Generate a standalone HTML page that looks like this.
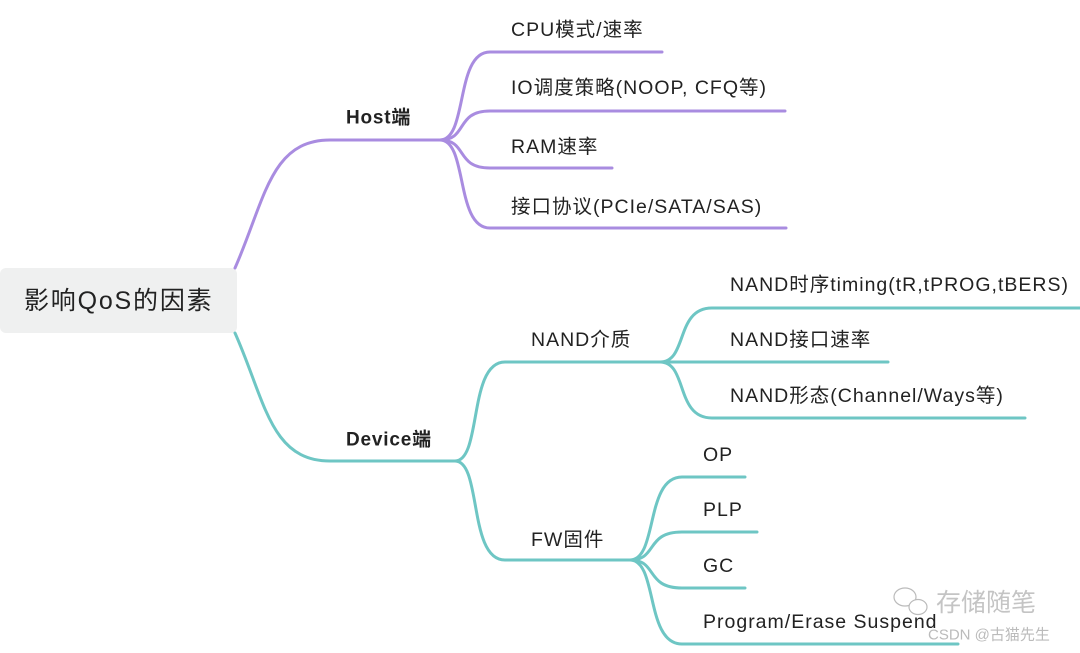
<!DOCTYPE html>
<html><head><meta charset="utf-8"><style>
html,body{margin:0;padding:0;background:#fff;}
svg{display:block;}
text{font-family:"Liberation Sans","Noto Sans CJK SC",sans-serif;fill:#222;dominant-baseline:central;}
</style></head><body>
<svg width="1080" height="653" viewBox="0 0 1080 653" xmlns="http://www.w3.org/2000/svg">
<rect x="0" y="268" width="237" height="65" rx="6" fill="#eff0f0"/>
<text x="24" y="301" font-size="25" letter-spacing="1.8">影响QoS的因素</text>
<g fill="none" stroke-width="3" stroke-linecap="round">
<g stroke="#a98ce0">
<path d="M235,268 C265,200 270,140 330,140 L440,140"/>
<path d="M440,140 C468,140 455,52 490,52 L662,52"/>
<path d="M440,140 C468,140 455,111 490,111 L785,111"/>
<path d="M440,140 C468,140 455,168 490,168 L612,168"/>
<path d="M440,140 C468,140 455,228 490,228 L786,228"/>
</g>
<g stroke="#6ec6c4">
<path d="M235,333 C265,400 270,461 330,461 L455,461"/>
<path d="M455,461 C482,461 468,362 505,362 L660,362"/>
<path d="M455,461 C482,461 468,560 505,560 L630,560"/>
<path d="M660,362 C688,362 675,308 712,308 L1080,308"/>
<path d="M660,362 L888,362"/>
<path d="M660,362 C688,362 675,418 712,418 L1025,418"/>
<path d="M630,560 C658,560 645,477 682,477 L745,477"/>
<path d="M630,560 C658,560 645,532 682,532 L757,532"/>
<path d="M630,560 C658,560 645,588 682,588 L745,588"/>
<path d="M630,560 C658,560 645,644 682,644 L958,644"/>
</g>
</g>
<text x="346" y="118" font-size="19" font-weight="bold" letter-spacing="0.8">Host端</text>
<text x="346" y="440" font-size="19" font-weight="bold" letter-spacing="0.8">Device端</text>
<g font-size="19.5" letter-spacing="1">
<text x="511" y="30">CPU模式/速率</text>
<text x="511" y="88">IO调度策略(NOOP, CFQ等)</text>
<text x="511" y="147">RAM速率</text>
<text x="511" y="207">接口协议(PCIe/SATA/SAS)</text>
<text x="531" y="340">NAND介质</text>
<text x="531" y="540">FW固件</text>
<text x="730" y="285">NAND时序timing(tR,tPROG,tBERS)</text>
<text x="730" y="340">NAND接口速率</text>
<text x="730" y="396">NAND形态(Channel/Ways等)</text>
<text x="703" y="455">OP</text>
<text x="703" y="510">PLP</text>
<text x="703" y="566">GC</text>
<text x="703" y="622">Program/Erase Suspend</text>
</g>
<g fill="none" stroke="#bbb" stroke-width="1.2">
<ellipse cx="905" cy="597" rx="11" ry="9"/>
<ellipse cx="918" cy="607" rx="9" ry="7.5" fill="#fff"/>
</g>
<text x="936" y="603" font-size="25" style="fill:#c4c4c4">存储随笔</text>
<text x="928" y="635" font-size="15" style="fill:#bbb">CSDN @古猫先生</text>
</svg>
</body></html>
